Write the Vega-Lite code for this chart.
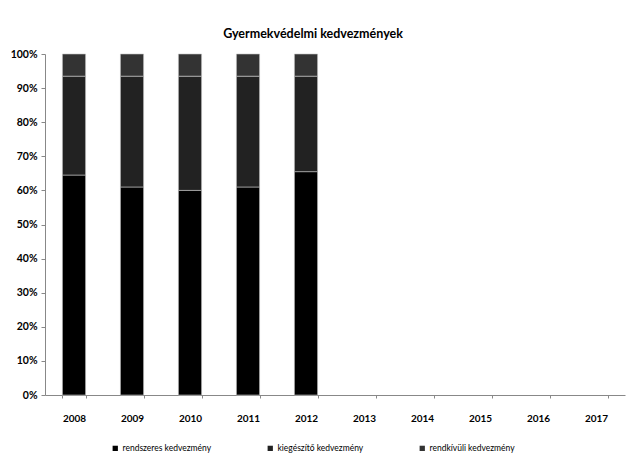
{
  "$schema": "https://vega.github.io/schema/vega-lite/v6.json",
  "width": 580,
  "height": 341,
  "autosize": {"type": "none"},
  "padding": {"left": 45, "top": 54, "right": 5, "bottom": 60},
  "background": "white",
  "title": {
    "text": "Gyermekvédelmi kedvezmények",
    "font": "Lato",
    "fontSize": 12.5,
    "fontWeight": "bold",
    "color": "#000",
    "anchor": "middle",
    "offset": 9,
    "dx": -22
  },
  "config": {
    "view": {"stroke": null},
    "font": "Lato"
  },
  "data": {
    "values": [
      {"ev": "2008", "tipus": "rendszeres kedvezmény", "n": 1, "ertek": 64.5},
      {"ev": "2008", "tipus": "kiegészítő kedvezmény", "n": 2, "ertek": 29},
      {"ev": "2008", "tipus": "rendkívüli kedvezmény", "n": 3, "ertek": 6.5},
      {"ev": "2009", "tipus": "rendszeres kedvezmény", "n": 1, "ertek": 61},
      {"ev": "2009", "tipus": "kiegészítő kedvezmény", "n": 2, "ertek": 32.5},
      {"ev": "2009", "tipus": "rendkívüli kedvezmény", "n": 3, "ertek": 6.5},
      {"ev": "2010", "tipus": "rendszeres kedvezmény", "n": 1, "ertek": 60},
      {"ev": "2010", "tipus": "kiegészítő kedvezmény", "n": 2, "ertek": 33.5},
      {"ev": "2010", "tipus": "rendkívüli kedvezmény", "n": 3, "ertek": 6.5},
      {"ev": "2011", "tipus": "rendszeres kedvezmény", "n": 1, "ertek": 61},
      {"ev": "2011", "tipus": "kiegészítő kedvezmény", "n": 2, "ertek": 32.5},
      {"ev": "2011", "tipus": "rendkívüli kedvezmény", "n": 3, "ertek": 6.5},
      {"ev": "2012", "tipus": "rendszeres kedvezmény", "n": 1, "ertek": 65.5},
      {"ev": "2012", "tipus": "kiegészítő kedvezmény", "n": 2, "ertek": 28},
      {"ev": "2012", "tipus": "rendkívüli kedvezmény", "n": 3, "ertek": 6.5}
    ]
  },
  "mark": {"type": "bar", "stroke": "#c8c8c8", "strokeWidth": 0.6},
  "encoding": {
    "x": {
      "field": "ev",
      "type": "nominal",
      "scale": {
        "domain": ["2008", "2009", "2010", "2011", "2012", "2013", "2014", "2015", "2016", "2017"],
        "paddingInner": 0.6,
        "paddingOuter": 0.3
      },
      "axis": {
        "title": null,
        "labelAngle": 0,
        "ticks": true,
        "tickBand": "extent",
        "tickSize": 3,
        "tickColor": "#888",
        "labelPadding": 15,
        "labelFont": "Lato",
        "labelFontSize": 10,
        "labelFontWeight": "bold",
        "labelColor": "#000",
        "domainColor": "#888"
      }
    },
    "y": {
      "field": "ertek",
      "type": "quantitative",
      "stack": "normalize",
      "scale": {"domain": [0, 1]},
      "axis": {
        "title": null,
        "format": ".0%",
        "values": [0, 0.1, 0.2, 0.3, 0.4, 0.5, 0.6, 0.7, 0.8, 0.9, 1],
        "grid": false,
        "tickSize": 4,
        "tickColor": "#888",
        "domainColor": "#888",
        "labelPadding": 4,
        "labelFont": "Lato",
        "labelFontSize": 10.5,
        "labelFontWeight": "bold",
        "labelColor": "#000"
      }
    },
    "color": {
      "field": "tipus",
      "type": "nominal",
      "scale": {
        "domain": ["rendszeres kedvezmény", "kiegészítő kedvezmény", "rendkívüli kedvezmény"],
        "range": ["#000000", "#222222", "#333333"]
      },
      "legend": {
        "title": null,
        "orient": "none",
        "legendX": 66,
        "legendY": 390,
        "direction": "horizontal",
        "symbolType": "square",
        "symbolSize": 28,
        "symbolStrokeWidth": 0,
        "symbolOffset": 0,
        "labelOffset": 3,
        "labelFont": "Lato",
        "labelFontSize": 8.5,
        "labelColor": "#000",
        "columnPadding": 54
      }
    },
    "order": {"field": "n", "type": "quantitative", "sort": "ascending"}
  }
}
